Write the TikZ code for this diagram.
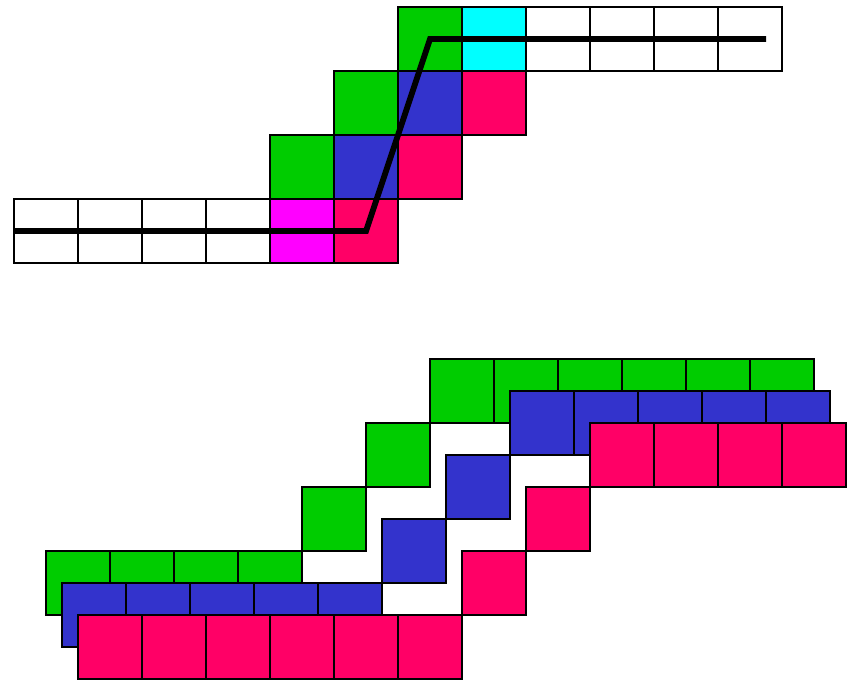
\documentclass[tikz,border=0pt]{standalone}
\usepackage{tikz}
\usetikzlibrary{positioning}
\definecolor{cellGreen}{RGB}{0,204,0}
\definecolor{cellBlue}{RGB}{51,51,204}
\definecolor{cellRed}{RGB}{255,0,102}
\definecolor{cellCyan}{RGB}{0,255,255}
\definecolor{cellMagenta}{RGB}{255,0,255}

\begin{document}
\begin{tikzpicture}[
    cell/.style={draw=black, line width=0.8pt, minimum width=1cm,
                 minimum height=1cm, inner sep=0pt, outer sep=0pt,
                 anchor=north west},
    trace/.style={draw=black, line width=2.6pt, line join=miter}
]
\useasboundingbox (-0.21875,0.109375) rectangle (13.140625,-10.515625);

% TOP --- single staircase with the traced route
\node[cell, fill=cellGreen] (t-0-6) at (6,0) {};
\node[cell, fill=cellCyan] (t-0-7) at (7,0) {};
\foreach \x in {8,...,11}
  \node[cell, fill=white] (t-0-\x) at (\x,0) {};

\node[cell, fill=cellGreen] (t-1-5) at (5,-1) {};
\node[cell, fill=cellBlue] (t-1-6) at (6,-1) {};
\node[cell, fill=cellRed] (t-1-7) at (7,-1) {};

\node[cell, fill=cellGreen] (t-2-4) at (4,-2) {};
\node[cell, fill=cellBlue] (t-2-5) at (5,-2) {};
\node[cell, fill=cellRed] (t-2-6) at (6,-2) {};

\foreach \x in {0,...,3}
  \node[cell, fill=white] (t-3-\x) at (\x,-3) {};
\node[cell, fill=cellMagenta] (t-3-4) at (4,-3) {};
\node[cell, fill=cellRed] (t-3-5) at (5,-3) {};

\coordinate (trace-end) at (11.75,-0.5);
\draw[trace] (t-3-0.west) -- (t-3-5.center) -- (t-0-6.center) -- (trace-end);

% BOTTOM --- three shifted staircases (green, blue, red)
\foreach \x in {0,...,3}
  \node[cell, fill=cellGreen] (g-low-\x) at ({0.5+\x},-8.5) {};
\node[cell, fill=cellGreen] (g-step-1) at (4.5,-7.5) {};
\node[cell, fill=cellGreen] (g-step-2) at (5.5,-6.5) {};
\foreach \x in {0,...,5}
  \node[cell, fill=cellGreen] (g-up-\x) at ({6.5+\x},-5.5) {};

\foreach \x in {0,...,4}
  \node[cell, fill=cellBlue] (b-low-\x) at ({0.75+\x},-9) {};
\node[cell, fill=cellBlue] (b-step-1) at (5.75,-8) {};
\node[cell, fill=cellBlue] (b-step-2) at (6.75,-7) {};
\foreach \x in {0,...,4}
  \node[cell, fill=cellBlue] (b-up-\x) at ({7.75+\x},-6) {};

\foreach \x in {0,...,5}
  \node[cell, fill=cellRed] (r-low-\x) at ({1+\x},-9.5) {};
\node[cell, fill=cellRed] (r-step-1) at (7,-8.5) {};
\node[cell, fill=cellRed] (r-step-2) at (8,-7.5) {};
\foreach \x in {0,...,3}
  \node[cell, fill=cellRed] (r-up-\x) at ({9+\x},-6.5) {};

\end{tikzpicture}
\end{document}
